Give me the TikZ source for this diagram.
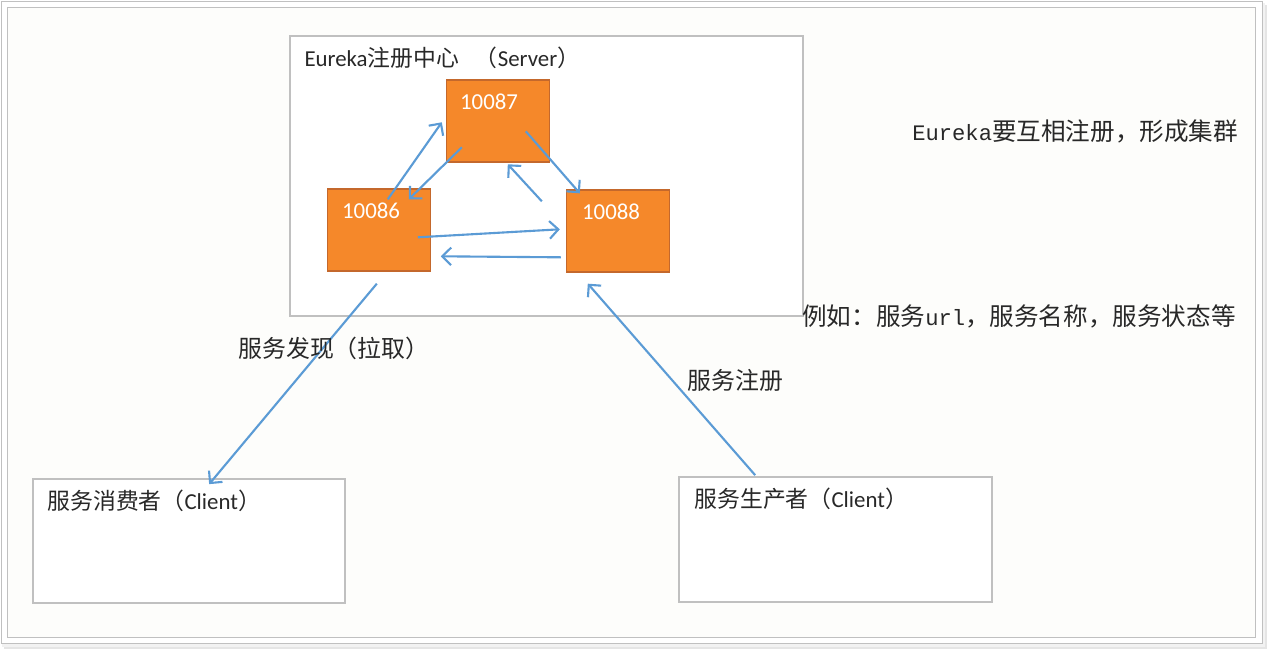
\documentclass[tikz,border=0pt]{standalone}
\usepackage{fontspec}
\setmainfont{Carlito}
\newfontfamily\cjkfont{Noto Sans CJK SC}
\newfontfamily\monofont[Scale=0.9]{Liberation Mono}
\newcommand{\cn}[1]{{\cjkfont #1}}
\usepackage{xcolor}
\usepackage{tikz}
\usetikzlibrary{arrows.meta, positioning, calc}
\definecolor{peerorange}{RGB}{245,136,42}
\definecolor{peeredge}{RGB}{196,104,44}
\definecolor{linkblue}{RGB}{91,155,213}
\definecolor{frameline}{RGB}{192,192,192}
\definecolor{textgray}{RGB}{40,40,40}
\tikzstyle{arrow} = [line width=1.2pt, draw=linkblue, -{Straight Barb[length=5pt,width=10pt]}]
\tikzstyle{peer} = [draw=peeredge, fill=peerorange, line width=0.8pt, minimum width=2.06cm, minimum height=1.64cm, inner sep=0pt]
\tikzstyle{panel} = [draw=frameline, line width=1pt, fill=white, inner sep=0pt]
\tikzstyle{title} = [anchor=west, inner sep=0pt, text=textgray, font=\fontsize{13}{15}\selectfont]
\tikzstyle{port} = [anchor=west, inner sep=0pt, text=white, font=\fontsize{13}{15}\selectfont]
\tikzstyle{note} = [anchor=west, inner sep=0pt, text=textgray, font=\fontsize{13.6}{16}\selectfont]

\begin{document}
\begin{tikzpicture}[x=0.02cm, y=-0.02cm]
\useasboundingbox (0,0) rectangle (1267,649);

% Page frame
\fill[black!10] (4,5) rectangle (1267,649);
\fill[black!5] (2,3) rectangle (1265,647);
\draw[frameline, fill=white] (1,1) rectangle (1262,643);
\draw[frameline, fill={rgb,255:red,253;green,253;blue,251}] (7,7) rectangle (1255,637);

% Eureka registry
\node[panel, minimum width=10.26cm, minimum height=5.6cm] (registry) at (546.5,176) {};
\node[title] (registrytitle) at ($(registry.north west)+(15,23)$) {Eureka\cn{注册中心}\hspace{0.7em}\cn{（}Server\cn{）}};

% Peers
\node[peer] (p87) at (498,121) {};
\node[peer] (p86) at (379,230) {};
\node[peer] (p88) at (618,231) {};
\node[port] (p87label) at ($(p87.north west)+(14,22)$) {10087};
\node[port] (p86label) at ($(p86.north west)+(15,22)$) {10086};
\node[port] (p88label) at ($(p88.north west)+(16,22)$) {10088};

% Peer replication
\draw[arrow] ($(p86.north west)+(61,11)$) -- ($(p87.north west)+(-4,43)$);
\draw[arrow] ($(p87.north west)+(16,68)$) -- ($(p86.north west)+(82,11)$);
\draw[arrow] ($(p87.north west)+(80,52)$) -- ($(p88.north west)+(14,4)$);
\draw[arrow] ($(p88.north west)+(-24,12)$) -- ($(p87.north west)+(62,85)$);
\draw[arrow] ($(p86.north west)+(91,49)$) -- ($(p88.north west)+(-6,40)$);
\draw[arrow] ($(p88.north west)+(-5,68)$) -- ($(p86.north west)+(114,68)$);

% Clients
\node[panel, minimum width=6.24cm, minimum height=2.48cm] (consumer) at (189,541) {};
\node[title] (consumertitle) at ($(consumer.north west)+(15,23)$) {\cn{服务消费者（}Client\cn{）}};
\node[panel, minimum width=6.26cm, minimum height=2.5cm] (producer) at (835.5,539.5) {};
\node[title] (producertitle) at ($(producer.north west)+(16,23)$) {\cn{服务生产者（}Client\cn{）}};

\draw[arrow] ($(p86.south west)+(50,12)$) -- ($(consumer.north west)+(177,6)$);
\draw[arrow] ($(producer.north west)+(77,-1)$) -- ($(p88.south west)+(22,11)$);

% Notes
\node[note] (fetch) at (238,348) {\cn{服务发现（拉取）}};
\node[note] (register) at (687,380) {\cn{服务注册}};
\node[note, font=\fontsize{14}{16}\selectfont] (cluster) at (912,131) {{\monofont Eureka}\cn{要互相注册，形成集群}};
\node[note, font=\fontsize{14}{16}\selectfont] (example) at (802,316) {\cn{例如：服务}{\monofont url}\cn{，服务名称，服务状态等}};
\end{tikzpicture}
\end{document}
